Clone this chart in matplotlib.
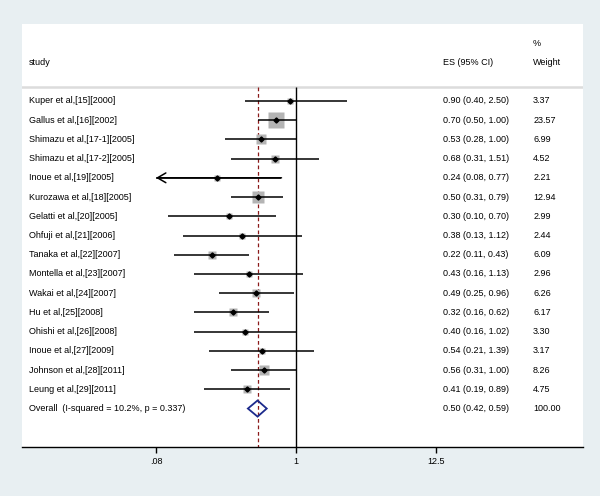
import numpy as np
import matplotlib
matplotlib.use("Agg")
import matplotlib.pyplot as plt
import matplotlib.transforms as mtransforms

plt.rcParams['font.family'] = ['Liberation Sans', 'DejaVu Sans']

studies = ["Kuper et al,[15][2000]", "Gallus et al,[16][2002]", "Shimazu et al,[17-1][2005]",
           "Shimazu et al,[17-2][2005]", "Inoue et al,[19][2005]", "Kurozawa et al,[18][2005]",
           "Gelatti et al,[20][2005]", "Ohfuji et al,[21][2006]", "Tanaka et al,[22][2007]",
           "Montella et al,[23][2007]", "Wakai et al,[24][2007]", "Hu et al,[25][2008]",
           "Ohishi et al,[26][2008]", "Inoue et al,[27][2009]", "Johnson et al,[28][2011]",
           "Leung et al,[29][2011]"]
es = [0.90, 0.70, 0.53, 0.68, 0.24, 0.50, 0.30, 0.38, 0.22, 0.43, 0.49, 0.32, 0.40, 0.54, 0.56, 0.41]
lo = [0.40, 0.50, 0.28, 0.31, 0.08, 0.31, 0.10, 0.13, 0.11, 0.16, 0.25, 0.16, 0.16, 0.21, 0.31, 0.19]
hi = [2.50, 1.00, 1.00, 1.51, 0.77, 0.79, 0.70, 1.12, 0.43, 1.13, 0.96, 0.62, 1.02, 1.39, 1.00, 0.89]
weights = [3.37, 23.57, 6.99, 4.52, 2.21, 12.94, 2.99, 2.44, 6.09, 2.96, 6.26, 6.17, 3.30, 3.17, 8.26, 4.75]
lo_clipped = [False, False, False, False, True, False, False, False, False, False, False, False,
              False, False, False, False]

overall_label = "Overall  (I-squared = 10.2%, p = 0.337)"
overall_es, overall_lo, overall_hi = 0.50, 0.42, 0.59

xticks = [0.08, 1, 12.5]
xticklabels = [".08", "1", "12.5"]

bg = '#e8eff2'
fs = 6.5

fig = plt.figure(figsize=(6, 4.96), dpi=100, facecolor=bg)
ax = fig.add_axes([22 / 600, 49 / 496, 561 / 600, 423 / 496])
ax.set_facecolor('white')
ax.set_xscale('log')
ax.set_xlim(0.00713, 177.5)
ax.set_ylim(18, -4)

rows = np.arange(len(studies))
overall_row = len(studies)
sep_y = -0.73

# header
trans = mtransforms.blended_transform_factory(ax.transAxes, ax.transData)
x_lab, x_es, x_wt = 0.0125, 0.750, 0.911
ax.text(x_lab, -2, "study", transform=trans, fontsize=fs, va='center')
ax.text(x_es, -2, "ES (95% CI)", transform=trans, fontsize=fs, va='center')
ax.text(x_wt, -2, "Weight", transform=trans, fontsize=fs, va='center')
ax.text(x_wt, -3, "%", transform=trans, fontsize=fs, va='center')
ax.axhline(sep_y, color='#dcdcdc', lw=1.8)

# reference lines
ax.vlines(1, sep_y, 18, color='black', lw=1.0, zorder=2)
ax.vlines(overall_es, sep_y, 18, color='#8b1a1a', lw=0.9, linestyles=(0, (3, 2.2)), zorder=2)

# study rows
for i, r in enumerate(rows):
    side_px = 3.5 * np.sqrt(weights[i])
    ax.plot(es[i], r, marker='s', ms=side_px * 0.72, color='#b4b4b4', mec='none', zorder=3)
    left = max(lo[i], xticks[0])
    ax.plot([left, hi[i]], [r, r], color='black', lw=1.1, zorder=4, solid_capstyle='butt')
    if lo_clipped[i]:
        ax.annotate('', xy=(xticks[0], r), xytext=(hi[i], r),
                    arrowprops=dict(arrowstyle='->,head_length=0.6,head_width=0.35', lw=1.1,
                                    color='black', shrinkA=0, shrinkB=0), zorder=4)
    ax.plot(es[i], r, marker='D', ms=2.6, color='black', zorder=5)
    ax.text(x_lab, r, studies[i], transform=trans, fontsize=fs, va='center')
    ax.text(x_es, r, "%.2f (%.2f, %.2f)" % (es[i], lo[i], hi[i]), transform=trans, fontsize=fs, va='center')
    ax.text(x_wt, r, "%.2f" % weights[i], transform=trans, fontsize=fs, va='center')

# overall diamond
h = 0.42
ax.fill([overall_lo, overall_es, overall_hi, overall_es],
        [overall_row, overall_row - h, overall_row, overall_row + h],
        facecolor='none', edgecolor='#1c2a8c', lw=1.3, zorder=5)
ax.text(x_lab, overall_row, overall_label, transform=trans, fontsize=fs, va='center')
ax.text(x_es, overall_row, "%.2f (%.2f, %.2f)" % (overall_es, overall_lo, overall_hi),
        transform=trans, fontsize=fs, va='center')
ax.text(x_wt, overall_row, "100.00", transform=trans, fontsize=fs, va='center')

# axis
for s in ['top', 'left', 'right']:
    ax.spines[s].set_visible(False)
ax.spines['bottom'].set_linewidth(1.0)
ax.set_yticks([])
ax.set_xticks(xticks)
ax.set_xticklabels(xticklabels, fontsize=fs)
ax.xaxis.set_minor_locator(matplotlib.ticker.NullLocator())
ax.tick_params(axis='x', length=4.5, width=1.0, pad=3)

fig.savefig("out.png", dpi=100, facecolor=bg)
